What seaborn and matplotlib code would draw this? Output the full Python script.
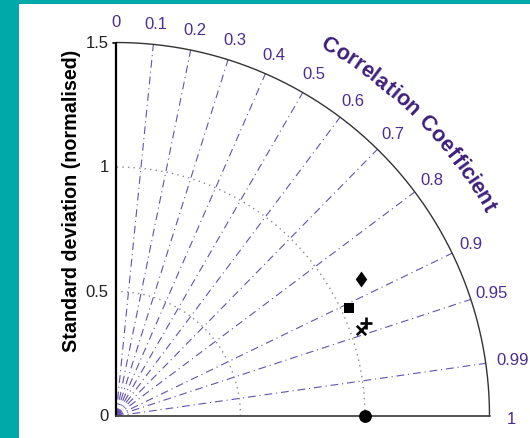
import numpy as np
import matplotlib
matplotlib.use("Agg")
import matplotlib.pyplot as plt
import seaborn as sns
from matplotlib.patches import Rectangle
from matplotlib.path import Path
from matplotlib.textpath import TextPath
from matplotlib.font_manager import FontProperties

# data
corr_ticks = [0, 0.1, 0.2, 0.3, 0.4, 0.5, 0.6, 0.7, 0.8, 0.9, 0.95, 0.99, 1]
corr_tick_labels = ["0", "0.1", "0.2", "0.3", "0.4", "0.5", "0.6", "0.7", "0.8", "0.9", "0.95", "0.99", "1"]
std_ticks = [0, 0.5, 1, 1.5]
std_tick_labels = ["0", "0.5", "1", "1.5"]
std_arcs = [0.5, 1.0]

models = ["ref", "diamond", "square", "plus", "cross"]
model_std = [1.0, 1.127, 1.031, 1.070, 1.042]
model_corr = [1.0, 0.873, 0.908, 0.937, 0.944]

sns.set_style("white")
plt.rcParams["font.family"] = ["Liberation Sans", "DejaVu Sans"]

teal = "#00a9a9"
purple = "#6650b0"
purple_txt = "#4b2d94"
title_purple = "#3d1f7c"

fig = plt.figure(figsize=(5.30, 4.39), dpi=100, facecolor=teal)
fig.patches.append(Rectangle((19 / 530, 0), 1, (439 - 5) / 439, transform=fig.transFigure,
                             facecolor="white", edgecolor="none", zorder=-10))
ax = fig.add_axes([0, 0, 1, 1])
ax.set_facecolor("none")
ppu = 249.0
ax.set_xlim(-116 / ppu, (530 - 116) / ppu)
ax.set_ylim(-(439 - 417) / ppu, 417 / ppu)
ax.axis("off")

rmax = 1.5
th = np.linspace(0, np.pi / 2, 300)

# correlation rays
for c in corr_ticks[1:-1]:
    a = np.arccos(c)
    ax.plot([0, rmax * np.cos(a)], [0, rmax * np.sin(a)], color=purple, lw=0.8,
            ls=(0, (7, 3.5, 1, 3.5)), zorder=1)

# std dev arcs
for r in std_arcs:
    ax.plot(r * np.cos(th), r * np.sin(th), color="#8a8a8a", lw=1.0, ls=(0, (1, 3)), zorder=1)

# frame
ax.plot(rmax * np.cos(th), rmax * np.sin(th), color="#333333", lw=1.0, zorder=2)
ax.plot([0, 0], [0, rmax], color="black", lw=1.6, zorder=2)
ax.plot([0, rmax], [0, 0], color="#444444", lw=1.3, zorder=2)
ax.plot([-0.012, 0], [rmax, rmax], color="black", lw=1.2, zorder=2)

# std tick labels
for v, lab in zip(std_ticks, std_tick_labels):
    ax.text(-0.03, v, lab, ha="right", va="center", fontsize=12, color="#222222")

# correlation tick labels
for c, lab in zip(corr_ticks, corr_tick_labels):
    a = np.arccos(c)
    rr = 1.61 if lab == "0.99" else 1.586
    yy = rr * np.sin(a) - (0.012 if lab == "1" else 0)
    ax.text(rr * np.cos(a), yy, lab, ha="center", va="center", fontsize=12, color=purple_txt)

# curved axis title, first and last letter centres at these angles
title = "Correlation Coefficient"
fp = FontProperties(family="Liberation Sans", weight="bold", size=15.5)
widths = []
for ch in title:
    if ch == " ":
        widths.append(TextPath((0, 0), "a", prop=fp).get_extents().width * 0.6)
    else:
        widths.append(TextPath((0, 0), ch, prop=fp).get_extents().width + 1.2)
widths = np.array(widths)
pos = np.cumsum(widths) - widths / 2
pos = (pos - pos[0]) / (pos[-1] - pos[0])
r_t = 1.715
a_start, a_end = np.deg2rad(60.2), np.deg2rad(29.4)
for ch, p in zip(title, pos):
    a = a_start + p * (a_end - a_start)
    ax.text(r_t * np.cos(a), r_t * np.sin(a), ch, rotation=np.rad2deg(a) - 90,
            rotation_mode="anchor", ha="center", va="center", fontproperties=fp,
            color=title_purple)

# y label
ax.text(-0.177, 0.867, "Standard deviation (normalised)", rotation=90, ha="center", va="center",
        fontsize=14.2, fontweight="bold", color="black")

# model points
xs = [s * c for s, c in zip(model_std, model_corr)]
ys = [s * np.sqrt(1 - c ** 2) for s, c in zip(model_std, model_corr)]
diamond = Path([(0, 1), (0.72, 0), (0, -1), (-0.72, 0), (0, 1)],
               [Path.MOVETO, Path.LINETO, Path.LINETO, Path.LINETO, Path.CLOSEPOLY])
marker_map = {"ref": ("o", 85), "diamond": (diamond, 132), "square": ("s", 52),
              "plus": ("+", 80), "cross": ("x", 45)}
for m, x, y in zip(models, xs, ys):
    mk, sz = marker_map[m]
    line_art = isinstance(mk, str) and mk in ("+", "x")
    sns.scatterplot(x=[x], y=[y], marker=mk, s=sz, color="black", edgecolor="black",
                    linewidth=1.9 if line_art else 0, ax=ax, zorder=5, clip_on=False)

fig.savefig("out.png", dpi=100, facecolor=teal)
